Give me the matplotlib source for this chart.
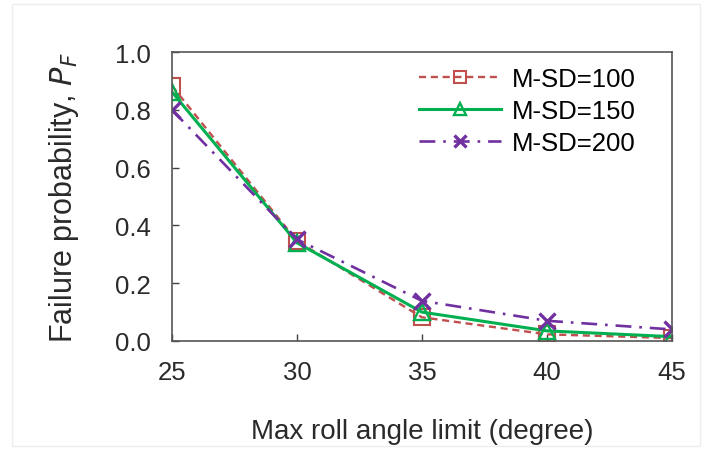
import numpy as np
import matplotlib.pyplot as plt
from matplotlib.patches import Rectangle

plt.rcParams['font.family'] = ['Liberation Sans', 'DejaVu Sans']

angle = [25, 30, 35, 40, 45]
pf_100 = [0.883, 0.346, 0.082, 0.023, 0.010]
pf_150 = [0.862, 0.340, 0.100, 0.035, 0.015]
pf_200 = [0.800, 0.352, 0.139, 0.070, 0.040]
labels = ['M-SD=100', 'M-SD=150', 'M-SD=200']

fig = plt.figure(figsize=(7.06, 4.52), dpi=100)
fig.patches.append(Rectangle((0.017, 0.01), 0.975, 0.978, transform=fig.transFigure,
                             fill=False, edgecolor='#eeeeee', lw=1))
ax = fig.add_axes([0.2436, 0.2434, 0.708, 0.639])

ax.plot(angle, pf_100, ls=(0, (3, 2)), color='#C0504D', lw=1.7, marker='s', ms=11,
        mfc='none', mec='#C0504D', mew=1.5, label=labels[0])
ax.plot(angle, pf_150, ls='-', color='#00B050', lw=2.2, marker='^', ms=11,
        mfc='none', mec='#00B050', mew=1.7, label=labels[1])
ax.plot(angle, pf_200, ls=(0, (6, 3, 1, 3)), color='#7030A0', lw=1.9, marker='x', ms=12,
        mec='#7030A0', mew=2.4, label=labels[2])

ax.set_xlim(25, 45)
ax.set_ylim(0, 1.0)
ax.set_xticks(angle)
ax.set_yticks(np.arange(0, 1.01, 0.2))
ax.set_yticklabels(['%.1f' % v for v in np.arange(0, 1.01, 0.2)])
ax.tick_params(axis='both', direction='in', length=5, width=1, colors='#404040',
               labelcolor='#2a2a2a', labelsize=18.5)
ax.tick_params(axis='y', pad=15)
ax.tick_params(axis='x', pad=14)
for s in ax.spines.values():
    s.set_color('#555555')
    s.set_linewidth(1.2)

ax.set_xlabel('Max roll angle limit (degree)', fontsize=20, color='#2a2a2a', va='center')
ax.xaxis.set_label_coords(0.5, -0.31)
ax.set_ylabel('Failure probability, $\\mathit{P}_F$', fontsize=22, color='#2a2a2a', va='center')
ax.yaxis.set_label_coords(-0.216, 0.5)

ax.legend(loc='upper left', bbox_to_anchor=(0.476, 0.981), frameon=False, fontsize=18.5,
          handlelength=3.2, borderaxespad=0, borderpad=0.35, labelspacing=0.31,
          handletextpad=0.4, markerscale=0.75)

fig.savefig('out.png', dpi=100)
